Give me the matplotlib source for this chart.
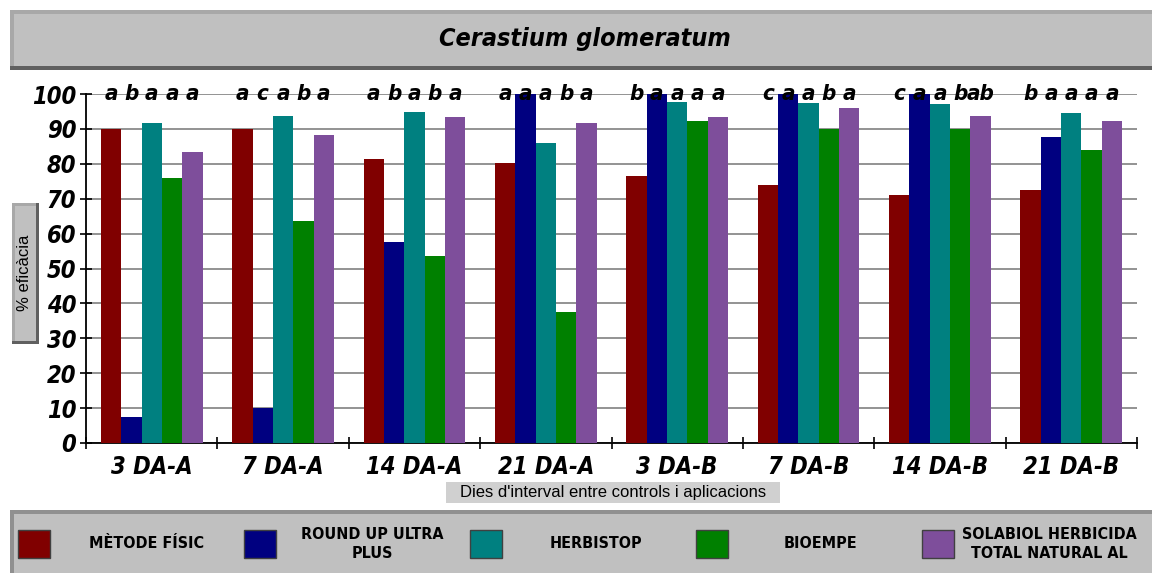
import matplotlib.pyplot as plt
from matplotlib.patches import Rectangle
import numpy as np

# Groups (days between controls and applications)
GROUPS = ["3 DA-A", "7 DA-A", "14 DA-A", "21 DA-A", "3 DA-B", "7 DA-B", "14 DA-B", "21 DA-B"]

# Treatments shown in the legend
TREATMENTS = ["MÈTODE FÍSIC", "ROUND UP ULTRA\nPLUS", "HERBISTOP", "BIOEMPE",
              "SOLABIOL HERBICIDA\nTOTAL NATURAL AL"]
COLORS = ["#800000", "#000080", "#008080", "#008000", "#7E4E9B"]

# % efficacy per treatment, one value for each group
METODE_FISIC = [90, 90, 81.4, 80.2, 76.5, 73.9, 71.1, 72.5]
ROUND_UP = [7.4, 10, 57.6, 100, 100, 100, 100, 87.7]
HERBISTOP = [91.7, 93.7, 94.8, 86, 97.7, 97.4, 97.1, 94.6]
BIOEMPE = [75.9, 63.6, 53.6, 37.5, 92.3, 90, 90, 84]
SOLABIOL = [83.4, 88.3, 93.4, 91.7, 93.4, 96, 93.7, 92.3]

# Significance letters above each bar
LETTERS = [
    ["a", "b", "a", "a", "a"],
    ["a", "c", "a", "b", "a"],
    ["a", "b", "a", "b", "a"],
    ["a", "a", "a", "b", "a"],
    ["b", "a", "a", "a", "a"],
    ["c", "a", "a", "b", "a"],
    ["c", "a", "a", "b", "ab"],
    ["b", "a", "a", "a", "a"],
]

# Condensed DejaVu stands in for the narrow font of the original
plt.rcParams['font.family'] = ['DejaVu Sans']
plt.rcParams['font.stretch'] = 'condensed'
COND = dict(fontweight="bold", fontstretch="condensed")

W, H = 1152, 573
fig = plt.figure(figsize=(W / 100, H / 100), dpi=100)


def px_rect(x0, y0, x1, y1):
    """Convert pixel box (top-left origin) to figure fraction [l, b, w, h]."""
    return [x0 / W, 1 - y1 / H, (x1 - x0) / W, (y1 - y0) / H]


def bevel_box(x0, y0, x1, y1, light="#A8A8A8", dark="#606060", fill="#C0C0C0", bw=4):
    """Draw a grey box with a simple 3D border in pixel coordinates."""
    l, b, w, h = px_rect(x0, y0, x1, y1)
    fig.patches.append(Rectangle((l, b), w, h, transform=fig.transFigure,
                                 facecolor=dark, edgecolor="none", zorder=0))
    l2, b2, w2, h2 = px_rect(x0, y0, x1 - bw, y1 - bw)
    fig.patches.append(Rectangle((l2, b2), w2, h2, transform=fig.transFigure,
                                 facecolor=light, edgecolor="none", zorder=0))
    l3, b3, w3, h3 = px_rect(x0 + bw, y0 + bw, x1 - bw, y1 - bw)
    fig.patches.append(Rectangle((l3, b3), w3, h3, transform=fig.transFigure,
                                 facecolor=fill, edgecolor="none", zorder=0))


# Title box
bevel_box(10, 10, 1160, 70)
fig.text(585 / W, 1 - 39 / H, "Cerastium glomeratum", ha="center", va="center",
         fontsize=18, fontstyle="italic", **COND)

# Main axes
ax = fig.add_axes(px_rect(86, 94, 1137, 443))
values = [METODE_FISIC, ROUND_UP, HERBISTOP, BIOEMPE, SOLABIOL]
x = np.arange(len(GROUPS))
bar_w = 0.155
for i, (vals, col) in enumerate(zip(values, COLORS)):
    pos = x + (i - 2) * bar_w
    ax.bar(pos, vals, width=bar_w, color=col, zorder=3)
    for j, p in enumerate(pos):
        ax.text(p, 100, LETTERS[j][i], ha="center", va="center", fontsize=16,
                fontstyle="italic", zorder=4, **COND)

ax.set_xlim(-0.5, len(GROUPS) - 0.5)
ax.set_ylim(0, 100)
ax.set_yticks(np.arange(0, 101, 10))
ax.set_xticks(x)
ax.set_xticklabels(GROUPS)
ax.set_xticks(np.arange(-0.5, len(GROUPS), 1), minor=True)
ax.tick_params(axis="x", which="major", length=0, pad=9, labelsize=17)
ax.tick_params(axis="x", which="minor", length=8, direction="inout", width=1.2)
ax.tick_params(axis="y", length=8, direction="inout", width=1.2, labelsize=17, pad=3)
for lab in ax.get_xticklabels() + ax.get_yticklabels():
    lab.set_fontweight("bold")
    lab.set_fontstyle("italic")
    lab.set_fontstretch("condensed")
ax.grid(axis="y", color="#808080", linewidth=1.2, zorder=0)
for s in ["top", "right"]:
    ax.spines[s].set_visible(False)
ax.spines["left"].set_linewidth(1.3)
ax.spines["bottom"].set_linewidth(1.3)

# y label box
bevel_box(12, 203, 39, 344, bw=3)
fig.text(25 / W, 1 - 273 / H, "% eficàcia", rotation=90, ha="center", va="center",
         fontsize=12, family=["Liberation Sans", "DejaVu Sans"], fontstretch="normal")

# x label box
l, b, w, h = px_rect(446, 482, 780, 503)
fig.patches.append(Rectangle((l, b), w, h, transform=fig.transFigure,
                             facecolor="#D0D0D0", edgecolor="none", zorder=0))
fig.text(613 / W, 1 - 492 / H, "Dies d'interval entre controls i aplicacions",
         ha="center", va="center", fontsize=12, family=["Liberation Sans", "DejaVu Sans"],
         fontstretch="normal")

# Legend box
bevel_box(10, 510, 1160, 578, light="#909090", dark="#909090")
sq_x = [18, 244, 470, 696, 922]
txt_x = [147, 372, 596, 820, 1049]
for sx, tx, col, name in zip(sq_x, txt_x, COLORS, TREATMENTS):
    l, b, w, h = px_rect(sx, 530, sx + 32, 558)
    fig.patches.append(Rectangle((l, b), w, h, transform=fig.transFigure,
                                 facecolor=col, edgecolor="#404040", linewidth=1, zorder=1))
    fig.text(tx / W, 1 - 544 / H, name, ha="center", va="center", fontsize=11.5,
             linespacing=1.4, **COND)

fig.savefig("out.png", dpi=100)
